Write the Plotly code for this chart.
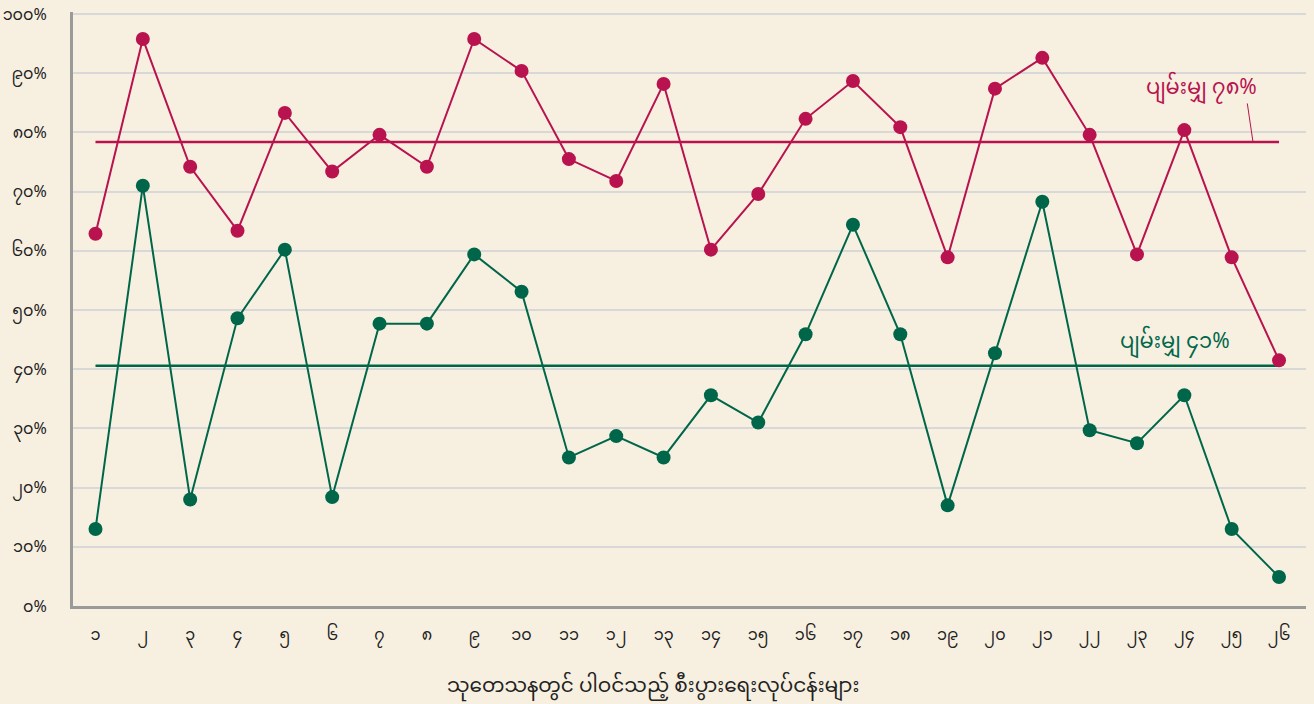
import plotly.graph_objects as go

businesses = list(range(1, 27))
tick_labels = ["၁", "၂", "၃", "၄", "၅", "၆", "၇", "၈", "၉", "၁၀", "၁၁", "၁၂", "၁၃",
               "၁၄", "၁၅", "၁၆", "၁၇", "၁၈", "၁၉", "၂၀", "၂၁", "၂၂", "၂၃", "၂၄", "၂၅", "၂၆"]
red_values = [62.9, 95.8, 74.2, 63.4, 83.3, 73.4, 79.6, 74.2, 95.8, 90.4, 75.5, 71.8, 88.2,
              60.2, 69.6, 82.3, 88.7, 80.9, 58.9, 87.4, 92.6, 79.6, 59.4, 80.4, 58.9, 41.5]
green_values = [13.0, 71.0, 18.0, 48.6, 60.2, 18.4, 47.7, 47.7, 59.4, 53.1, 25.1, 28.7, 25.1,
                35.6, 31.0, 45.9, 64.4, 45.9, 17.0, 42.7, 68.3, 29.7, 27.5, 35.6, 13.0, 4.9]
red_mean = 78.4
green_mean = 40.6
red_label = "ပျမ်းမျှ ၇၈%"
green_label = "ပျမ်းမျှ ၄၁%"
y_ticks = [0, 10, 20, 30, 40, 50, 60, 70, 80, 90, 100]
y_tick_labels = ["၀%", "၁၀%", "၂၀%", "၃၀%", "၄၀%", "၅၀%", "၆၀%", "၇၀%", "၈၀%", "၉၀%", "၁၀၀%"]
x_title = "သုတေသနတွင် ပါဝင်သည့် စီးပွားရေးလုပ်ငန်းများ"

RED = "#B8124F"
GREEN = "#00664A"
BG = "#F7F0E1"
FONT = "Noto Sans Myanmar, Padauk, Myanmar Text, Noto Sans, sans-serif"

fig = go.Figure()
fig.add_trace(go.Scatter(x=[businesses[0], businesses[-1]], y=[red_mean, red_mean], mode="lines",
                         line=dict(color=RED, width=2.5), hoverinfo="skip", showlegend=False))
fig.add_trace(go.Scatter(x=[businesses[0], businesses[-1]], y=[green_mean, green_mean], mode="lines",
                         line=dict(color=GREEN, width=2.5), hoverinfo="skip", showlegend=False))
fig.add_trace(go.Scatter(x=businesses, y=red_values, mode="lines+markers",
                         line=dict(color=RED, width=2), marker=dict(color=RED, size=14),
                         showlegend=False))
fig.add_trace(go.Scatter(x=businesses, y=green_values, mode="lines+markers",
                         line=dict(color=GREEN, width=2), marker=dict(color=GREEN, size=14),
                         showlegend=False))

fig.add_shape(type="line", xref="x", yref="y", x0=25.33, y0=84.9, x1=25.45, y1=red_mean,
              line=dict(color=RED, width=1))
fig.add_annotation(x=24.37, y=87.4, xref="x", yref="y", text=red_label,
                   showarrow=False, font=dict(color=RED, size=21, family=FONT))
fig.add_annotation(x=23.8, y=44.5, xref="x", yref="y", text=green_label,
                   showarrow=False, font=dict(color=GREEN, size=21, family=FONT))
# x-axis title
fig.add_annotation(x=(653 - 73) / 1233, y=-0.137, xref="paper", yref="paper", text=x_title,
                   showarrow=False, xanchor="center", yanchor="middle",
                   font=dict(color="#222222", size=20, family=FONT))

fig.update_layout(
    width=1314, height=704,
    margin=dict(l=73, r=8, t=12, b=98),
    paper_bgcolor=BG, plot_bgcolor=BG,
    font=dict(family=FONT, color="#222222", size=16),
    xaxis=dict(range=[0.525, 26.57], tickmode="array", tickvals=businesses, ticktext=tick_labels,
               showgrid=False, zeroline=False, showline=True, linecolor="#9A9A9A", linewidth=3,
               ticks="", ticklabelstandoff=12, automargin=False),
    yaxis=dict(range=[0, 100.35], tickmode="array", tickvals=y_ticks, ticktext=y_tick_labels,
               showgrid=True, gridcolor="#D8D8D8", gridwidth=1.5, zeroline=False,
               showline=True, linecolor="#9A9A9A", linewidth=3, ticks="", ticklabelstandoff=20,
               ticklabeloverflow="allow", automargin=False),
)

fig.write_html("out.html", config={"displayModeBar": False},
               post_script="document.body.style.margin='0';document.body.style.background='%s';" % BG)
